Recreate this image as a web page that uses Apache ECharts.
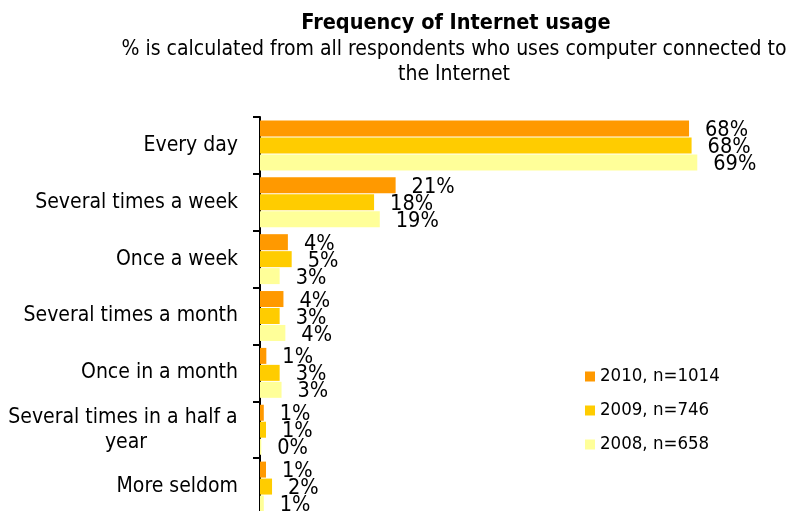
<!DOCTYPE html>
<html>
<head>
<meta charset="utf-8">
<script src="https://cdn.jsdelivr.net/npm/echarts@6/dist/echarts.min.js"></script>
<style>
  html, body { margin: 0; padding: 0; background: #ffffff; }
  #chart { width: 789px; height: 511px; }
</style>
</head>
<body>
<div id="chart"></div>
<script>
// Answer categories, top to bottom
const categories = [
  'Every day',
  'Several times a week',
  'Once a week',
  'Several times a month',
  'Once in a month',
  'Several times in a half a year',
  'More seldom'
];

// Share of respondents, % (labels show the rounded value)
const values2010 = [67.7, 21.4, 4.4, 3.7, 1.0, 0.6, 0.95];
const values2009 = [68.1, 18.0, 5.0, 3.1, 3.1, 0.95, 1.9];
const values2008 = [69.0, 18.9, 3.1, 4.0, 3.4, 0.2, 0.6];

const seriesNames = ['2010, n=1014', '2009, n=746', '2008, n=658'];
const seriesColors = ['#FF9900', '#FFCC00', '#FFFF99'];

const titleText = 'Frequency of Internet usage';
const subtitleText = '% is calculated from all respondents who uses computer connected to\nthe Internet';

const FONT = '"DejaVu Sans Condensed", "DejaVu Sans", sans-serif';

const chart = echarts.init(document.getElementById('chart'), null, { renderer: 'canvas' });

function barSeries(name, data, color) {
  return {
    name: name,
    type: 'bar',
    data: data,
    barWidth: 16,
    barGap: '6%',
    itemStyle: { color: color },
    label: {
      show: true,
      position: 'right',
      distance: 16,
      offset: [0, 2],
      fontFamily: FONT,
      fontSize: 21.5,
      color: '#000',
      formatter: p => Math.round(p.value) + '%'
    },
    animation: false
  };
}

// Long wrapped category names are centred under their first line
const categoryItems = categories.map(name => {
  if (name.length > 24) {
    return { value: name, textStyle: { align: 'center', padding: [6, 224, 0, 0] } };
  }
  return name;
});

const option = {
  backgroundColor: '#ffffff',
  animation: false,
  graphic: [
    {
      type: 'text', x: 456, y: 23,
      style: {
        text: titleText, align: 'center', verticalAlign: 'middle',
        fontFamily: FONT, fontSize: 21.5, fontWeight: 'bold', fill: '#000'
      }
    },
    {
      type: 'text', x: 454, y: 62,
      style: {
        text: subtitleText, align: 'center', verticalAlign: 'middle',
        fontFamily: FONT, fontSize: 21, lineHeight: 25, fill: '#000'
      }
    }
  ],
  legend: {
    orient: 'vertical',
    left: 585,
    top: 367,
    padding: 0,
    itemWidth: 10,
    itemHeight: 10,
    itemGap: 15,
    icon: 'rect',
    textStyle: { fontFamily: FONT, fontSize: 18.5, color: '#000' },
    data: seriesNames
  },
  grid: { left: 260, right: 22, top: 117, bottom: -4, containLabel: false, outerBoundsMode: 'none' },
  xAxis: {
    type: 'value',
    min: 0,
    max: 80,
    show: false
  },
  yAxis: {
    type: 'category',
    inverse: true,
    data: categoryItems,
    axisLine: { show: true, lineStyle: { color: '#000', width: 2 } },
    axisTick: { show: true, length: 7, lineStyle: { color: '#000', width: 2 } },
    axisLabel: {
      margin: 22,
      fontFamily: FONT,
      fontSize: 21,
      color: '#000',
      width: 240,
      overflow: 'break',
      lineHeight: 25
    },
    splitLine: { show: false }
  },
  series: [
    barSeries(seriesNames[0], values2010, seriesColors[0]),
    barSeries(seriesNames[1], values2009, seriesColors[1]),
    barSeries(seriesNames[2], values2008, seriesColors[2])
  ]
};

chart.setOption(option);
</script>
</body>
</html>
